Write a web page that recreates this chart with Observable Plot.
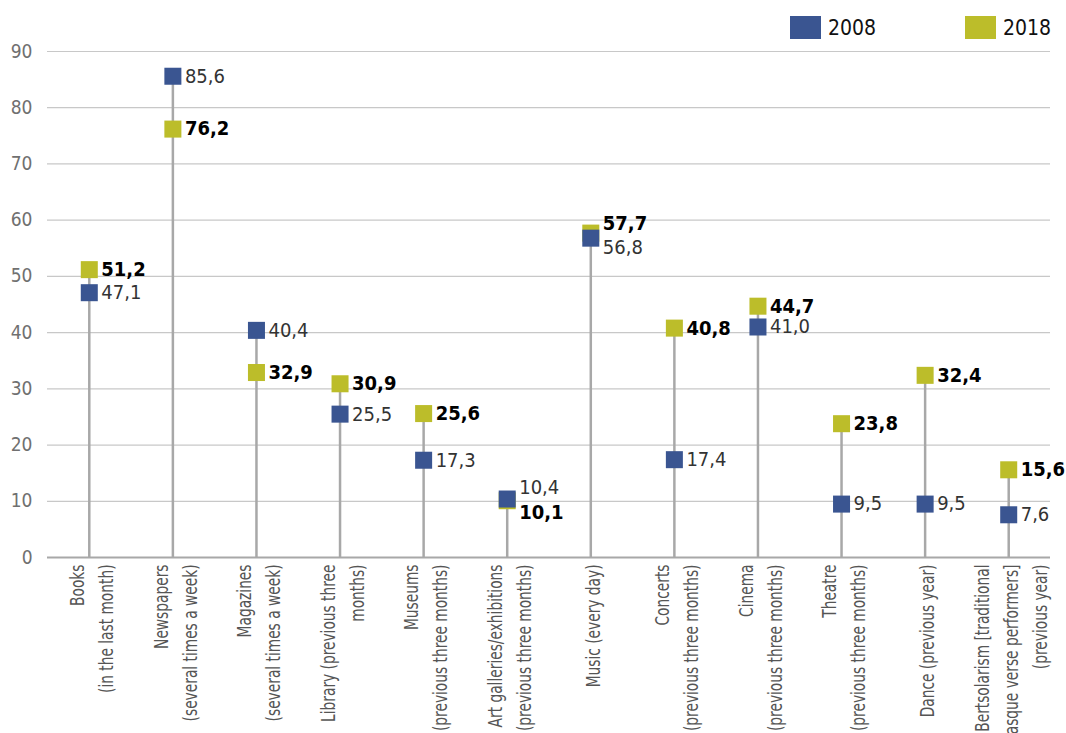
<!DOCTYPE html>
<html><head><meta charset="utf-8">
<script src="https://cdn.jsdelivr.net/npm/d3@7"></script>
<script src="https://cdn.jsdelivr.net/npm/@observablehq/plot@0.6"></script>
<style>
body{margin:0;background:#fff}
#wrap{position:relative;width:1066px;height:733px}
.leg{position:absolute;top:16px;display:flex;align-items:center;font-size:21px;color:#111;height:23px}
.sw{width:31px;height:23px;margin-right:7px}
#chart{position:absolute;left:0;top:0}
</style></head><body>
<div id="wrap"><div id="chart"></div>
<div class="leg" style="left:790px"><div class="sw" style="background:#3a5591"></div>2008</div>
<div class="leg" style="left:965px"><div class="sw" style="background:#bcbd2a"></div>2018</div>
</div>
<script>
const categories = ["Books","Newspapers","Magazines","Library","Museums","Art galleries","Music","Concerts","Cinema","Theatre","Dance","Bertsolarism"];
const categoryLabels = [
  "Books\n(in the last month)",
  "Newspapers\n(several times a week)",
  "Magazines\n(several times a week)",
  "Library (previous three\nmonths)",
  "Museums\n(previous three months)",
  "Art galleries/exhibitions\n(previous three months)",
  "Music (every day)",
  "Concerts\n(previous three months)",
  "Cinema\n(previous three months)",
  "Theatre\n(previous three months)",
  "Dance (previous year)",
  "Bertsolarism [traditional\nBasque verse performers]\n(previous year)"
];
const values2008 = [47.1, 85.6, 40.4, 25.5, 17.3, 10.4, 56.8, 17.4, 41.0, 9.5, 9.5, 7.6];
const values2018 = [51.2, 76.2, 32.9, 30.9, 25.6, 10.1, 57.7, 40.8, 44.7, 23.8, 32.4, 15.6];
const yTicks = [0, 10, 20, 30, 40, 50, 60, 70, 80, 90];

const BLUE = "#3a5591", OLIVE = "#bcbd2a";

// pick an installed condensed face if there is one
function hasFont(f) {
  const c = document.createElement("canvas").getContext("2d");
  const s = "The quick brown fox 0123456789";
  const test = base => { c.font = `40px ${base}`; const a = c.measureText(s).width;
    c.font = `40px "${f}", ${base}`; return a !== c.measureText(s).width; };
  return test("monospace") || test("serif");
}
const condensed = ["Liberation Sans Narrow", "DejaVu Sans Condensed", "Roboto Condensed", "Arial Narrow", "Nimbus Sans Narrow"].find(hasFont);
const FONT = condensed ? `"${condensed}", sans-serif` : `Roboto, sans-serif`;
document.body.style.fontFamily = FONT;
document.body.style.fontStretch = "condensed";

// measure how wide the chosen face sets a reference string, to squeeze axis labels
const ctx = document.createElement("canvas").getContext("2d");
ctx.font = `20px ${FONT}`;
const refWidth = ctx.measureText("(several times a week)").width;
const squeeze = Math.min(1, 157 / refWidth);

const fmt = v => v.toFixed(1).replace(".", ",");
const labelOf = new Map(categories.map((c, i) => [c, categoryLabels[i]]));

// label positions: if two values nearly coincide, spread their labels apart
const rows = categories.map((c, i) => {
  const a = values2008[i], b = values2018[i];
  const mid = (a + b) / 2, close = Math.abs(a - b) < 2, s = 2.2;
  return {
    cat: c, v08: a, v18: b, top: Math.max(a, b),
    l08: close ? (a >= b ? mid + s : mid - s) : a,
    l18: close ? (b > a ? mid + s : mid - s) : b
  };
});

const chart = Plot.plot({
  width: 1066, height: 733,
  marginTop: 51, marginBottom: 176, marginLeft: 47, marginRight: 16,
  style: {fontFamily: FONT, fontStretch: "condensed", background: "#fff"},
  x: {type: "band", domain: categories, padding: 0, round: false},
  y: {domain: [0, 90]},
  marks: [
    Plot.gridY(yTicks.filter(d => d > 0), {stroke: "#c8c8c8", strokeOpacity: 1, strokeWidth: 1.2}),
    Plot.ruleY([0], {stroke: "#a8a8a8", strokeWidth: 2}),
    Plot.ruleX(rows, {x: "cat", y1: 0, y2: "top", stroke: "#a8a8a8", strokeWidth: 2.5}),
    Plot.dot(rows, {x: "cat", y: "v18", symbol: "square", r: 9.6, fill: OLIVE, stroke: null}),
    Plot.dot(rows, {x: "cat", y: "v08", symbol: "square", r: 9.6, fill: BLUE, stroke: null}),
    Plot.text(rows, {x: "cat", y: "l08", text: d => fmt(d.v08), dx: 12, textAnchor: "start", fill: "#333", fontSize: 20}),
    Plot.text(rows, {x: "cat", y: "l18", text: d => fmt(d.v18), dx: 12, textAnchor: "start", fill: "#000", fontSize: 20, fontWeight: "bold"}),
    Plot.axisY(yTicks, {tickSize: 0, tickPadding: 15, fontSize: 19, color: "#707070", label: null}),
    Plot.axisX({tickSize: 0, tickPadding: 7, tickRotate: -90, fontSize: 20, color: "#555", lineHeight: 1.45,
      tickFormat: d => labelOf.get(d), label: null})
  ]
});
// squeeze rotated category labels along their reading direction
chart.querySelectorAll('g[aria-label="x-axis tick label"] text').forEach(t => {
  const tr = t.getAttribute("transform") || "";
  t.setAttribute("transform", `${tr} scale(${squeeze},1)`);
});
document.getElementById("chart").appendChild(chart);
</script>
</body></html>
